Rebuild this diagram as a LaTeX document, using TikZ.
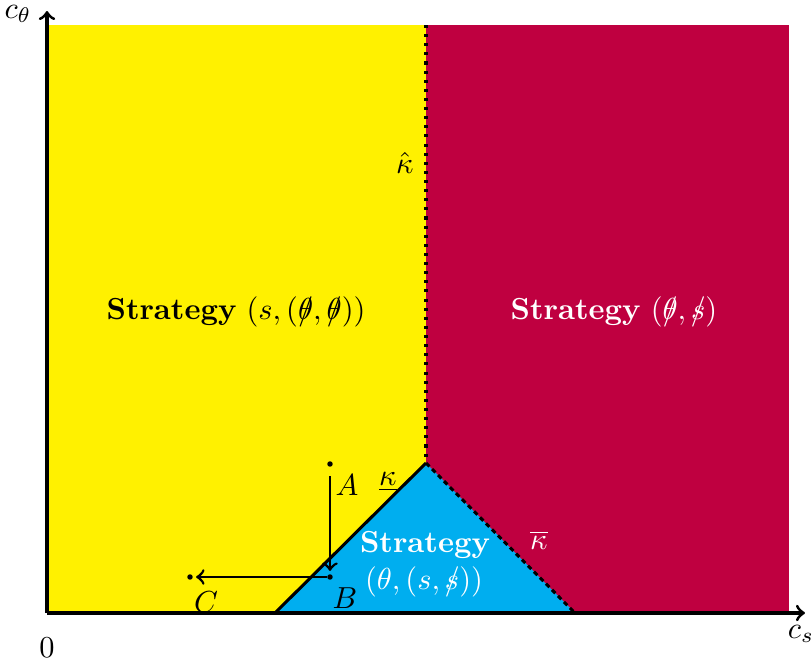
\documentclass[tikz,border=0pt]{standalone}
\usepackage{amsmath}
\definecolor{myyellow}{RGB}{255,241,0}
\definecolor{mypurple}{RGB}{191,0,64}
\definecolor{mycyan}{RGB}{0,174,239}
\newcommand{\nsl}[1]{\mathord{\ooalign{$#1$\cr\hidewidth$/$\hidewidth\cr}}}
\begin{document}
\begin{tikzpicture}[x=0.329pt,y=-0.329pt,
  axisline/.style={line width=1pt,->},
  bound/.style={line width=1pt},
  moveline/.style={line width=0.9pt,->},
  ptdot/.style={circle,fill=black,inner sep=0pt,minimum size=1.8pt},
  lbl/.style={inner sep=1pt},
  stratlbl/.style={align=center,inner sep=1pt}]
\useasboundingbox (0,0) rectangle (812,663);
% regions
\fill[myyellow] (47,25) rectangle (426,613);
\fill[mypurple] (426,25) rectangle (789,613);
\coordinate (top) at (426,25);
\coordinate (kink) at (426,463);
\coordinate (left) at (275,613);
\coordinate (right) at (575,613);
\fill[mycyan] (left) -- (kink) -- (right) -- cycle;
% boundaries
\draw[bound,dotted] (top) -- (kink);
\draw[bound] (left) -- (kink);
\draw[bound,dash pattern=on 1.6pt off 1.2pt] (kink) -- (right);
% axes
\coordinate (O) at (47,613);
\coordinate (ytip) at (47,11);
\coordinate (xtip) at (805,613);
\draw[axisline] (O) -- (ytip);
\draw[axisline] (O) -- (xtip);
\node[lbl] (cth) at (18,14) {$c_\theta$};
\node[lbl] (cs) at (801,634) {$c_s$};
\node[lbl] (zero) at (47,648) {$0$};
% boundary labels
\node[lbl] (khat) at (405,163) {$\hat{\kappa}$};
\node[lbl] (kund) at (388,482) {$\underline{\kappa}$};
\node[lbl,text=white] (kbar) at (539,540) {$\overline{\kappa}$};
% strategy labels
\node[stratlbl] (s1) at (236,312) {\textbf{Strategy} $(s,(\nsl{\theta},\nsl{\theta}))$};
\node[stratlbl,text=white] (s2) at (614,312) {\textbf{Strategy} $(\nsl{\theta},\nsl{s})$};
\node[stratlbl,text=white] (s3) at (425,545) {\textbf{Strategy}};
\node[stratlbl,text=white] (s4) at (424,582) {$(\theta,(s,\nsl{s}))$};
% points
\node[ptdot] (A) at (330,464) {};
\node[ptdot] (B) at (330,577) {};
\node[ptdot] (C) at (190,577) {};
\node[lbl] (Al) at (347,485) {$A$};
\node[lbl] (Bl) at (345,598) {$B$};
\node[lbl] (Cl) at (206,602) {$C$};
\draw[moveline] ([yshift=-4pt]A.center) -- ([yshift=2pt]B.center);
\draw[moveline] ([xshift=-1pt]B.center) -- ([xshift=2pt]C.center);
\end{tikzpicture}
\end{document}
